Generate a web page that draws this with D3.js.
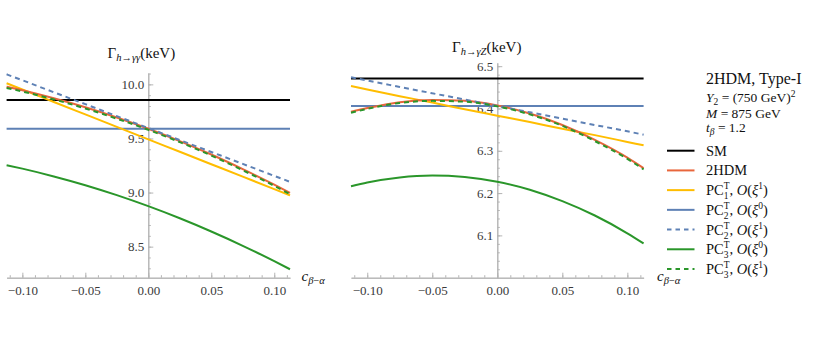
<!DOCTYPE html>
<html><head><meta charset="utf-8">
<script src="https://cdn.jsdelivr.net/npm/d3@7"></script>
<style>body{margin:0;background:#fff}svg, svg text{font-family:"Liberation Serif",serif !important}</style>
</head><body><svg id="c" width="830" height="346"></svg>
<script>
// ---- data ----
const cGrid = [-0.1125,-0.1,-0.075,-0.05,-0.025,0,0.025,0.05,0.075,0.1,0.1125];
// h -> gamma gamma (keV)
const gg_SM = 9.855;
const gg_PC2_0 = 9.589;
const gg_2HDM  = [9.978,9.945,9.871,9.788,9.694,9.590,9.476,9.352,9.217,9.073,8.997];
const gg_PC1_1 = [10.010,9.952,9.837,9.722,9.607,9.492,9.377,9.262,9.147,9.032,8.974];
const gg_PC2_1 = [10.093,10.038,9.927,9.817,9.706,9.596,9.485,9.375,9.265,9.154,9.099];
const gg_PC3_0 = [9.253,9.221,9.149,9.068,8.976,8.874,8.762,8.640,8.508,8.366,8.291];
const gg_PC3_1 = [9.967,9.934,9.861,9.777,9.683,9.580,9.466,9.342,9.206,9.062,8.985];
// h -> gamma Z (keV)
const gz_SM = 6.471;
const gz_PC2_0 = 6.406;
const gz_2HDM  = [6.392,6.401,6.415,6.420,6.418,6.407,6.388,6.361,6.326,6.284,6.259];
const gz_PC1_1 = [6.453,6.445,6.429,6.414,6.398,6.383,6.368,6.352,6.337,6.321,6.313];
const gz_PC2_1 = [6.474,6.466,6.451,6.436,6.421,6.406,6.391,6.376,6.361,6.346,6.338];
const gz_PC3_0 = [6.216,6.225,6.237,6.2415,6.238,6.227,6.208,6.181,6.147,6.105,6.081];
const gz_PC3_1 = [6.390,6.399,6.413,6.418,6.416,6.405,6.386,6.359,6.323,6.281,6.256];

const xTicks = [-0.1,-0.05,0,0.05,0.1];
const ggTicks = [8.5,9.0,9.5,10.0];
const gzTicks = [6.1,6.2,6.3,6.4,6.5];

const legendNames = ["SM","2HDM","PC1_1","PC2_0","PC2_1","PC3_0","PC3_1"];

// ---- styles ----
const FONT = '"Liberation Serif", serif';
const col = {SM:"#000000", H:"#e8663c", PC1:"#ffbd00", PC2:"#5e81b5", PC3:"#2a962a"};
const seriesStyle = {
  SM:{c:col.SM,d:null}, "2HDM":{c:col.H,d:null}, PC1_1:{c:col.PC1,d:null},
  PC2_0:{c:col.PC2,d:null}, PC2_1:{c:col.PC2,d:"5,4"}, PC3_0:{c:col.PC3,d:null}, PC3_1:{c:col.PC3,d:"5,4"}
};

const svg = d3.select("#c");
const axisCol = "#b4b4b4", labCol = "#3a3a3a";

function range(a,b,s){const r=[];for(let v=a;v<=b+1e-9;v+=s)r.push(+v.toFixed(4));return r;}

function panel(cfg){
  const x = d3.scaleLinear().domain([-0.1125,0.1125]).range(cfg.xr);
  const y = d3.scaleLinear().domain(cfg.yd).range(cfg.yr);
  const g = svg.append("g");
  const gxMin = g.append("g").attr("transform",`translate(0,${cfg.yr[0]})`)
    .call(d3.axisBottom(x).tickValues(range(-0.11,0.11,0.01)).tickSize(-2.5).tickSizeOuter(0).tickFormat(""));
  const gx = g.append("g").attr("transform",`translate(0,${cfg.yr[0]})`)
    .call(d3.axisBottom(x).tickValues(xTicks).tickSize(-5).tickSizeOuter(0).tickPadding(8).tickFormat(d3.format(".2f")));
  const gyMin = g.append("g").attr("transform",`translate(${x(0)},0)`)
    .call(d3.axisLeft(y).tickValues(cfg.yMinor).tickSize(-2.5).tickSizeOuter(0).tickFormat(""));
  const gy = g.append("g").attr("transform",`translate(${x(0)},0)`)
    .call(d3.axisLeft(y).tickValues(cfg.yTicks).tickSize(-5).tickSizeOuter(0).tickPadding(4).tickFormat(d3.format(".1f")));
  [gxMin,gx,gyMin,gy].forEach(a=>{
    a.attr("font-family",FONT).style("font-family",FONT);
    a.selectAll("path,line").attr("stroke",axisCol).attr("stroke-width",1);
    a.selectAll("text").attr("fill",labCol).attr("font-size",13).style("font-family",FONT);
  });
  const line = d3.line().x((d,i)=>x(cGrid[i])).y(d=>y(d)).curve(d3.curveMonotoneX);
  const lines = g.append("g");
  const draw = (vals,key)=>{
    const st = seriesStyle[key];
    lines.append("path").attr("d",line(vals)).attr("fill","none").attr("stroke",st.c)
      .attr("stroke-width",2).attr("stroke-dasharray",st.d);
  };
  draw(cGrid.map(()=>cfg.SM),"SM");
  draw(cGrid.map(()=>cfg.PC2_0),"PC2_0");
  draw(cfg.PC3_0,"PC3_0");
  draw(cfg.PC1_1,"PC1_1");
  draw(cfg.H,"2HDM");
  draw(cfg.PC2_1,"PC2_1");
  draw(cfg.PC3_1,"PC3_1");
  // title
  const t = g.append("text").attr("x",cfg.tx).attr("y",cfg.ty).attr("font-size",15).attr("fill","#111").style("font-family",FONT);
  t.append("tspan").text("Γ");
  t.append("tspan").attr("font-size",10.5).attr("dy",3).attr("font-style","italic").text(cfg.sub[0]);
  t.append("tspan").attr("font-size",10.5).text("→");
  t.append("tspan").attr("font-size",10.5).attr("font-style","italic").text(cfg.sub[1]);
  t.append("tspan").attr("dy",-3).text("(keV)");
  // axis label
  const a = g.append("text").attr("x",cfg.lx).attr("y",280.5).attr("font-size",15).attr("fill","#111").style("font-family",FONT);
  a.append("tspan").attr("font-style","italic").text("c");
  a.append("tspan").attr("font-size",10.5).attr("dy",3.5).attr("font-style","italic").text("β");
  a.append("tspan").attr("font-size",10.5).text("−");
  a.append("tspan").attr("font-size",10.5).attr("font-style","italic").text("α");
}

panel({xr:[6.6,290], yd:[8.213,10.105], yr:[277.7,73], yTicks:ggTicks, yMinor:range(8.3,10.1,0.1),
  SM:gg_SM, PC2_0:gg_PC2_0, H:gg_2HDM, PC1_1:gg_PC1_1, PC2_1:gg_PC2_1, PC3_0:gg_PC3_0, PC3_1:gg_PC3_1,
  tx:107.5, ty:58.3, sub:["h","γγ"], lx:301.5});
panel({xr:[351,643.6], yd:[6.0,6.508], yr:[277.7,62.8], yTicks:gzTicks, yMinor:range(6.02,6.5,0.02),
  SM:gz_SM, PC2_0:gz_PC2_0, H:gz_2HDM, PC1_1:gz_PC1_1, PC2_1:gz_PC2_1, PC3_0:gz_PC3_0, PC3_1:gz_PC3_1,
  tx:452, ty:51.7, sub:["h","γZ"], lx:657});

// ---- legend ----
const L = svg.append("g").style("font-family",FONT);
L.append("text").attr("x",706).attr("y",84).attr("font-size",16).attr("fill","#111").text("2HDM, Type-I");
let t2 = L.append("text").attr("x",706).attr("y",101.7).attr("font-size",13.5).attr("fill","#111");
t2.append("tspan").attr("font-style","italic").text("Y");
t2.append("tspan").attr("font-size",9.5).attr("dy",3).text("2");
t2.append("tspan").attr("dy",-3).text(" = (750 GeV)");
t2.append("tspan").attr("font-size",9.5).attr("dy",-5).text("2");
let t3 = L.append("text").attr("x",706).attr("y",117.7).attr("font-size",13.5).attr("fill","#111");
t3.append("tspan").attr("font-style","italic").text("M");
t3.append("tspan").text(" = 875 GeV");
let t4 = L.append("text").attr("x",706).attr("y",131.7).attr("font-size",13.5).attr("fill","#111");
t4.append("tspan").attr("font-style","italic").text("t");
t4.append("tspan").attr("font-size",9.5).attr("dy",3).attr("font-style","italic").text("β");
t4.append("tspan").attr("dy",-3).text(" = 1.2");

const legY = d3.scaleLinear().domain([0,6]).range([150.7,269]);
legendNames.forEach((k,i)=>{
  const st = seriesStyle[k], yy = legY(i);
  L.append("line").attr("x1",667).attr("x2",694.5).attr("y1",yy).attr("y2",yy)
    .attr("stroke",st.c).attr("stroke-width",2).attr("stroke-dasharray",st.d ? "4.5,4" : null);
  const tx = L.append("text").attr("x",706).attr("y",yy+5).attr("font-size",14.5).attr("fill","#111");
  if(k==="SM"||k==="2HDM"){ tx.text(k); return; }
  const n = k[2], ord = k[4];
  tx.append("tspan").text("PC");
  tx.append("tspan").attr("font-size",9.5).attr("dy",-6).text("T");
  tx.append("tspan").attr("font-size",9.5).attr("dx",-5.8).attr("dy",10).text(n);
  tx.append("tspan").attr("dy",-4).attr("dx",1).text(", ");
  tx.append("tspan").attr("font-style","italic").text("O");
  tx.append("tspan").text("(");
  tx.append("tspan").attr("font-style","italic").text("ξ");
  tx.append("tspan").attr("font-size",9.5).attr("dy",-6).text(ord);
  tx.append("tspan").attr("dy",6).text(")");
});
</script></body></html>
